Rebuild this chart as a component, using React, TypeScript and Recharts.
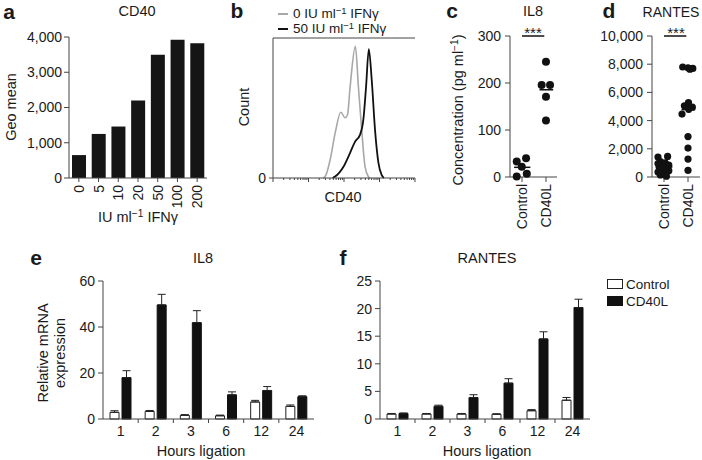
import React from 'react';
import {
  BarChart, Bar, XAxis, YAxis, LineChart, Line, ScatterChart, Scatter,
  ReferenceLine, ErrorBar,
} from 'recharts';

const FONT = '"Liberation Sans", Arial, Helvetica, sans-serif';
const INK = '#1a1a1a';
const AXIS = '#444';

// a - CD40 geo mean vs IFNy dose
const doses = ['0', '5', '10', '20', '50', '100', '200'];
const geoMean = [650, 1250, 1460, 2200, 3500, 3920, 3820];

// b - CD40 histograms (channel, count)
const chan0 = [360, 376, 412, 448, 489, 520, 537, 556, 594, 616, 640, 664, 688, 700];
const count0 = [0, 1, 13, 32, 47, 43, 45, 65, 94, 65, 34, 8, 1, 0];
const chan50 = [430, 448, 508, 556, 592, 628, 652, 671, 691, 712, 736, 760, 784, 800];
const count50 = [0, 1, 8, 18, 26, 31, 42, 65, 92, 70, 34, 11, 2, 0];

// c - IL8 protein
const il8Ctrl = [33, 40, 22, 1, 7];
const il8CtrlX = [0.78, 1.17, 0.99, 0.78, 1.2];
const il8Lig = [245, 196, 196, 171, 120];
const il8LigX = [2.0, 1.82, 2.17, 2.0, 2.0];

// d - RANTES protein
const rantesCtrl = [1415, 1460, 1100, 1000, 950, 850, 800, 700, 650, 550, 450, 350, 250, 150, 60];
const rantesCtrlX = [0.75, 1.15, 0.85, 1.05, 0.75, 1.2, 0.95, 0.8, 1.1, 0.9, 1.2, 0.75, 1.0, 0.85, 1.1];
const rantesLig = [7800, 7750, 7700, 7650, 5280, 5050, 4950, 4800, 4460, 2870, 2050, 1270, 470];
const rantesLigX = [1.78, 2.0, 2.2, 2.08, 2.02, 1.85, 2.18, 2.03, 1.75, 2.0, 2.0, 2.0, 2.0];

// e, f - mRNA time course
const hours = ['1', '2', '3', '6', '12', '24'];
const il8CtrlMrna = [2.9, 3.3, 1.6, 1.4, 7.4, 5.5];
const il8CtrlErr = [0.7, 0.4, 0.3, 0.3, 0.7, 0.6];
const il8LigMrna = [18.0, 49.6, 41.9, 10.5, 12.4, 9.7];
const il8LigErr = [3.0, 4.6, 5.2, 1.3, 1.7, 0.4];
const rantesCtrlMrna = [0.9, 0.9, 0.9, 0.85, 1.5, 3.4];
const rantesCtrlErr = [0.1, 0.1, 0.1, 0.1, 0.2, 0.5];
const rantesLigMrna = [1.0, 2.3, 3.9, 6.5, 14.5, 20.2];
const rantesLigErr = [0.1, 0.2, 0.5, 0.8, 1.3, 1.5];

const comma = (v: number) => v.toLocaleString('en-US');
const mean = (a: number[]) => a.reduce((s, v) => s + v, 0) / a.length;

const tickStyle = { fontSize: 14, fill: INK, fontFamily: FONT };

function Txt({ x, y, size = 14.5, bold = false, rotate = 0, children }: any) {
  return (
    <div style={{
      position: 'absolute', left: x, top: y, whiteSpace: 'nowrap', lineHeight: 1.2,
      transform: `translate(-50%,-50%) rotate(${rotate}deg)`,
      fontSize: size, fontWeight: bold ? 700 : 400, color: INK, fontFamily: FONT,
    }}>{children}</div>
  );
}

const Sup = ({ children }: any) => (
  <span style={{ fontSize: '0.7em', position: 'relative', top: '-0.45em' }}>{children}</span>
);

const Box = ({ x, y, children }: any) => (
  <div style={{ position: 'absolute', left: x, top: y }}>{children}</div>
);

// rotated category label
const RotTick = (p: any) => (
  <text transform={`translate(${p.x},${p.y}) rotate(-90)`} textAnchor="end" dominantBaseline="central"
    fontSize={14} fill={INK} fontFamily={FONT}>
    {p.labels ? p.labels[p.payload.value] : p.payload.value}
  </text>
);

// hours label plus separator tick between groups
const HourTick = (p: any) => {
  const half = p.payload?.offset || 17.5;
  const last = p.index === hours.length - 1;
  return (
    <g>
      {!last && <line x1={p.x + half} x2={p.x + half} y1={p.y - 7} y2={p.y - 3} stroke={AXIS} />}
      <text x={p.x} y={p.y} dy="0.71em" textAnchor="middle" fontSize={14} fill={INK} fontFamily={FONT}>
        {p.payload.value}
      </text>
    </g>
  );
};

// log-like minor ticks for the flow axis
const flowTicks: number[] = [];
for (let d = 0; d < 4; d++) for (let k = 1; k <= 9; k++) flowTicks.push(d * 256 + Math.log10(k) * 256);
flowTicks.push(1024);
const FlowTick = (p: any) => {
  const v = p.payload.value;
  const major = Math.abs((v / 256) - Math.round(v / 256)) < 0.001;
  return <line x1={p.x} x2={p.x} y1={p.y} y2={p.y + (major ? 4 : 2)} stroke={AXIS} />;
};

function PanelA() {
  const data = doses.map((d, i) => ({ dose: d, value: geoMean[i] }));
  return (
    <BarChart width={215} height={230} data={data} margin={{ top: 37, right: 8, left: 0, bottom: 0 }}
      barCategoryGap={3}>
      <XAxis dataKey="dose" height={52} stroke={AXIS} tickSize={4} tickMargin={3}
        tick={<RotTick />} interval={0} />
      <YAxis width={69} domain={[0, 4000]} ticks={[0, 1000, 2000, 3000, 4000]} tickFormatter={comma}
        stroke={AXIS} tickSize={5} tickMargin={2} tick={tickStyle} />
      <Bar dataKey="value" fill="#151515" barSize={14} isAnimationActive={false} />
    </BarChart>
  );
}

function PanelB() {
  const d0 = chan0.map((c, i) => ({ ch: c, count: count0[i] }));
  const d50 = chan50.map((c, i) => ({ ch: c, count: count50[i] }));
  return (
    <LineChart width={190} height={230} margin={{ top: 38, right: 5, left: 0, bottom: 32 }}>
      <XAxis type="number" dataKey="ch" domain={[0, 1024]} ticks={flowTicks} height={20}
        stroke={AXIS} tickLine={false} tickSize={0} tickMargin={0} tick={<FlowTick />} interval={0} />
      <YAxis type="number" domain={[0, 100]} ticks={[0]} width={43} stroke={AXIS}
        tickSize={4} tickMargin={3} tick={tickStyle} />
      <ReferenceLine y={100} stroke={AXIS} ifOverflow="visible" />
      <Line data={d0} dataKey="count" type="monotone" dot={false} stroke="#a8a8a8" strokeWidth={1.6}
        isAnimationActive={false} />
      <Line data={d50} dataKey="count" type="monotone" dot={false} stroke="#111" strokeWidth={1.8}
        isAnimationActive={false} />
    </LineChart>
  );
}

const groupLabels: Record<number, string> = { 1: 'Control', 2: 'CD40L' };

function DotPanel({ ctrl, ctrlX, lig, ligX, max, ticks, r, dom }: any) {
  const c = ctrl.map((v: number, i: number) => ({ x: ctrlX[i], y: v }));
  const l = lig.map((v: number, i: number) => ({ x: ligX[i], y: v }));
  const dot = (p: any) => <circle cx={p.cx} cy={p.cy} r={r} fill="#111" />;
  const mc = mean(ctrl);
  const ml = mean(lig);
  return (
    <ScatterChart width={dom.w} height={240} margin={{ top: 36, right: dom.right, left: 0, bottom: 0 }}>
      <XAxis type="number" dataKey="x" domain={dom.x} ticks={[1, 2]} height={63} stroke={AXIS}
        tickSize={5} tickMargin={2} tick={<RotTick labels={groupLabels} />} interval={0} />
      <YAxis type="number" dataKey="y" domain={[0, max]} ticks={ticks} width={70} stroke={AXIS}
        tickSize={5} tickMargin={4} tick={tickStyle} tickFormatter={comma} />
      <ReferenceLine segment={[{ x: 0.67, y: mc }, { x: 1.35, y: mc }]} stroke="#111" strokeWidth={1.5}
        ifOverflow="visible" />
      <ReferenceLine segment={[{ x: 1.73, y: ml }, { x: 2.3, y: ml }]} stroke="#111" strokeWidth={1.5}
        ifOverflow="visible" />
      <ReferenceLine segment={[{ x: 1.0, y: max }, { x: 1.93, y: max }]} stroke="#111" strokeWidth={1.5}
        ifOverflow="visible" />
      <Scatter data={c} shape={dot} isAnimationActive={false} />
      <Scatter data={l} shape={dot} isAnimationActive={false} />
    </ScatterChart>
  );
}

function MrnaPanel({ ctrl, ctrlErr, lig, ligErr, max, ticks, width, yw }: any) {
  const data = hours.map((h, i) => ({
    h, ctrl: ctrl[i], ctrlE: [0, ctrlErr[i]], lig: lig[i], ligE: [0, ligErr[i]],
  }));
  return (
    <BarChart width={width} height={230} data={data} margin={{ top: 51, right: 6, left: 0, bottom: 0 }}
      barSize={9} barGap={3}>
      <XAxis dataKey="h" height={41} stroke={AXIS} tickSize={0} tickMargin={7} tick={<HourTick />}
        interval={0} />
      <YAxis width={yw} domain={[0, max]} ticks={ticks} stroke={AXIS} tickSize={5} tickMargin={3}
        tick={tickStyle} />
      <Bar dataKey="ctrl" fill="#fff" stroke="#222" strokeWidth={1} isAnimationActive={false}>
        <ErrorBar dataKey="ctrlE" width={4} stroke="#222" strokeWidth={1} direction="y" />
      </Bar>
      <Bar dataKey="lig" fill="#111" stroke="#111" strokeWidth={1} isAnimationActive={false}>
        <ErrorBar dataKey="ligE" width={4} stroke="#222" strokeWidth={1} direction="y" />
      </Bar>
    </BarChart>
  );
}

export default function App() {
  return (
    <div style={{ position: 'absolute', left: 0, top: 0, width: 702, height: 460, background: '#fff',
      overflow: 'hidden', fontFamily: FONT }}>
      {/* a */}
      <Box x={0} y={0}><PanelA /></Box>
      <Txt x={9} y={12} size={21} bold>a</Txt>
      <Txt x={137} y={12}>CD40</Txt>
      <Txt x={12} y={107} rotate={-90}>Geo mean</Txt>
      <Txt x={138} y={218}>IU ml<Sup>−1</Sup> IFNγ</Txt>

      {/* b */}
      <Box x={230} y={0}><PanelB /></Box>
      <Txt x={237} y={11} size={21} bold>b</Txt>
      <div style={{ position: 'absolute', left: 278, top: 13, width: 10, height: 2, background: '#a8a8a8' }} />
      <div style={{ position: 'absolute', left: 278, top: 28, width: 10, height: 2, background: '#111' }} />
      <div style={{ position: 'absolute', left: 293, top: 14, transform: 'translateY(-50%)', fontSize: 13.5,
        whiteSpace: 'nowrap', color: INK, lineHeight: 1.2 }}>0 IU ml<Sup>−1</Sup> IFNγ</div>
      <div style={{ position: 'absolute', left: 293, top: 29, transform: 'translateY(-50%)', fontSize: 13.5,
        whiteSpace: 'nowrap', color: INK, lineHeight: 1.2 }}>50 IU ml<Sup>−1</Sup> IFNγ</div>
      <Txt x={245} y={107} rotate={-90}>Count</Txt>
      <Txt x={343} y={198}>CD40</Txt>

      {/* c */}
      <Box x={440} y={0}>
        <DotPanel ctrl={il8Ctrl} ctrlX={il8CtrlX} lig={il8Lig} ligX={il8LigX} max={300}
          ticks={[0, 100, 200, 300]} r={4} dom={{ w: 124, right: 7, x: [0.5, 2.46] }} />
      </Box>
      <Txt x={452} y={11} size={21} bold>c</Txt>
      <Txt x={533} y={12}>IL8</Txt>
      <Txt x={459} y={110} rotate={-90}>Concentration (pg ml<Sup>−1</Sup>)</Txt>
      <Txt x={533} y={33} size={15}>***</Txt>

      {/* d */}
      <Box x={582} y={0}>
        <DotPanel ctrl={rantesCtrl} ctrlX={rantesCtrlX} lig={rantesLig} ligX={rantesLigX} max={10000}
          ticks={[0, 2000, 4000, 6000, 8000, 10000]} r={3.6} dom={{ w: 120, right: 2, x: [0.5, 2.5] }} />
      </Box>
      <Txt x={609} y={11} size={21} bold>d</Txt>
      <Txt x={671} y={12} size={14}>RANTES</Txt>
      <Txt x={676} y={33} size={15}>***</Txt>

      {/* e */}
      <Box x={0} y={230}>
        <MrnaPanel ctrl={il8CtrlMrna} ctrlErr={il8CtrlErr} lig={il8LigMrna} ligErr={il8LigErr} max={60}
          ticks={[0, 20, 40, 60]} width={320} yw={103} />
      </Box>
      <Txt x={36} y={258} size={21} bold>e</Txt>
      <Txt x={203} y={259}>IL8</Txt>
      <Txt x={52} y={353} rotate={-90}><div style={{ textAlign: 'center' }}>Relative mRNA<br />expression</div></Txt>
      <Txt x={201} y={452}>Hours ligation</Txt>

      {/* f */}
      <Box x={330} y={230}>
        <MrnaPanel ctrl={rantesCtrlMrna} ctrlErr={rantesCtrlErr} lig={rantesLigMrna} ligErr={rantesLigErr}
          max={25} ticks={[0, 5, 10, 15, 20, 25]} width={266} yw={50} />
      </Box>
      <Txt x={343} y={258} size={21} bold>f</Txt>
      <Txt x={487} y={259}>RANTES</Txt>
      <Txt x={487} y={452}>Hours ligation</Txt>
      <div style={{ position: 'absolute', left: 607, top: 279, width: 14, height: 8, border: '1px solid #222',
        background: '#fff' }} />
      <div style={{ position: 'absolute', left: 607, top: 296, width: 16, height: 10, background: '#111' }} />
      <div style={{ position: 'absolute', left: 626, top: 284, transform: 'translateY(-50%)', fontSize: 13.5,
        color: INK, whiteSpace: 'nowrap' }}>Control</div>
      <div style={{ position: 'absolute', left: 626, top: 301, transform: 'translateY(-50%)', fontSize: 13.5,
        color: INK, whiteSpace: 'nowrap' }}>CD40L</div>
    </div>
  );
}
